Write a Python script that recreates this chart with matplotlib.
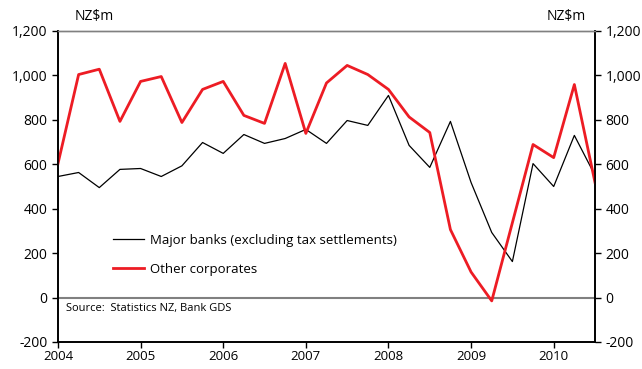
import numpy as np
import matplotlib
matplotlib.use("Agg")
from matplotlib import pyplot as plt
from matplotlib.ticker import FuncFormatter

plt.rcParams['font.family'] = ['Open Sans', 'DejaVu Sans']

# quarterly series, 2004 Q1 .. 2010 Q3
quarters = 2004 + 0.25 * np.arange(27)
major_banks = [545, 563, 495, 577, 581, 545, 593, 698, 649, 734, 694, 716, 757, 694,
               797, 775, 910, 685, 586, 793, 518, 293, 162, 603, 500, 730, 550]
other_corps = [603, 1004, 1028, 793, 973, 995, 788, 937, 973, 820, 784, 1054, 739, 966,
               1045, 1004, 937, 813, 743, 306, 115, -15, 337, 689, 630, 959, 518]
years = [2004, 2005, 2006, 2007, 2008, 2009, 2010]
yticks = [-200, 0, 200, 400, 600, 800, 1000, 1200]

fig = plt.figure(figsize=(6.42, 3.69), dpi=100)
ax = fig.add_axes([0.0903, 0.0732, 0.8365, 0.8428])

ax.axhline(0, color='#808080', lw=1.5, zorder=1)
ax.plot(quarters, major_banks, color='black', lw=0.9, label='Major banks (excluding tax settlements)', zorder=3)
ax.plot(quarters, other_corps, color='#ed1c24', lw=2.0, label='Other corporates', zorder=4)

ax.set_xlim(2004, 2010.5)
ax.set_ylim(-200, 1200)
ax.set_xticks(years)
ax.set_xticklabels([str(y) for y in years])
ax.set_yticks(yticks)
fmt = FuncFormatter(lambda v, p: f"{int(v):,}")
ax.yaxis.set_major_formatter(fmt)

ax2 = ax.twinx()
ax2.set_ylim(-200, 1200)
ax2.set_yticks(yticks)
ax2.yaxis.set_major_formatter(fmt)

for a in (ax, ax2):
    a.spines['top'].set_color('#808080')
    a.spines['top'].set_linewidth(1.0)
    for s in ('left', 'right', 'bottom'):
        a.spines[s].set_linewidth(1.2)
    a.tick_params(direction='out', length=4, width=1, labelsize=10, colors='black')
ax.tick_params(axis='x', pad=2, labelsize=9.5)

fig.text(0.117, 0.935, 'NZ$m', fontsize=10, ha='left', va='bottom')
fig.text(0.912, 0.935, 'NZ$m', fontsize=10, ha='right', va='bottom')

ax.legend(loc='lower left', bbox_to_anchor=(0.08, 0.175), frameon=False, fontsize=9.5,
          handlelength=2.4, handletextpad=0.4, labelspacing=1.2)
ax.text(0.015, 0.1, 'Source:  Statistics NZ, Bank GDS', transform=ax.transAxes, fontsize=8)

fig.savefig('out.png', dpi=100)
